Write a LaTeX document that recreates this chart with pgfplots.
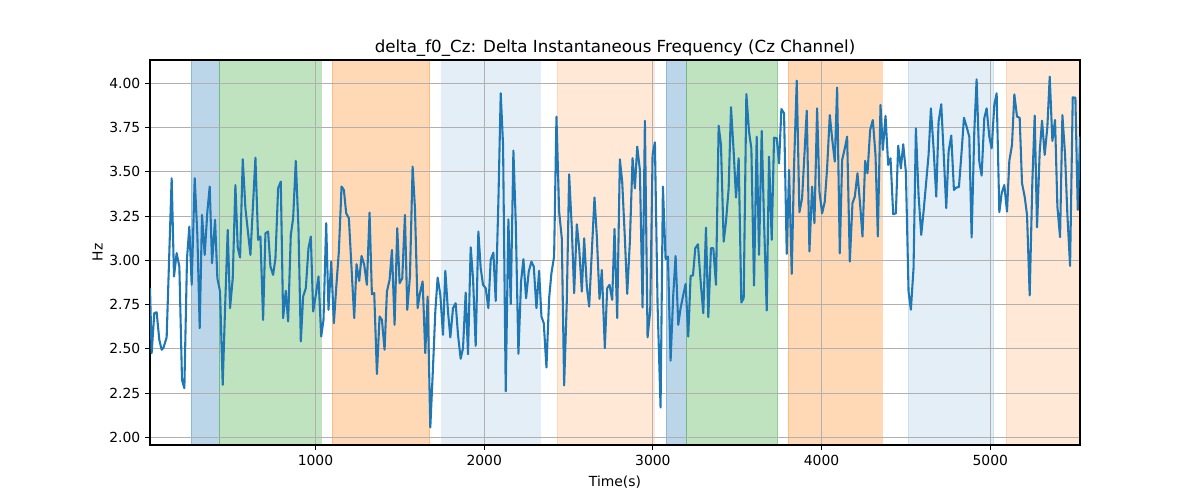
\documentclass[border=0pt]{standalone}
\usepackage{pgfplots}
\pgfplotsset{compat=1.18}
\usepackage{fontspec}
\setmainfont{DejaVu Sans}
\definecolor{tabblue}{HTML}{1F77B4}
\definecolor{taborange}{HTML}{FF7F0E}
\definecolor{tabgreen}{HTML}{2CA02C}
\definecolor{gridgray}{HTML}{B0B0B0}
\begin{document}
\begin{tikzpicture}
\begin{axis}[
  set layers,
  scale only axis,
  width=669.6pt, height=277.2pt,
  xmin=19, xmax=5532, ymin=1.957, ymax=4.132,
  axis line style={black, line width=0.8pt},
  tick align=outside, major tick length=3.5pt,
  tick style={black, line width=0.8pt},
  xtick pos=left, ytick pos=left,
  xtick={1000,2000,3000,4000,5000},
  ytick={2.00,2.25,2.50,2.75,3.00,3.25,3.50,3.75,4.00},
  yticklabel style={/pgf/number format/.cd, fixed, fixed zerofill, precision=2},
  xticklabel style={/pgf/number format/.cd, set thousands separator={}},
  /pgf/number format/assume math mode=true,
  ticklabel style={font=\fontsize{10}{12}\selectfont},
  grid=major,
  major grid style={gridgray, line width=0.8pt},
  title={delta\_f0\_Cz: Delta Instantaneous Frequency (Cz Channel)},
  title style={font=\fontsize{12}{14}\selectfont, yshift=-7pt},
  xlabel={Time(s)}, ylabel={Hz},
  label style={font=\fontsize{10}{12}\selectfont},
  xlabel style={yshift=-1pt},
  ylabel style={yshift=-2pt},
  span/.style={on layer=axis background, fill=#1, draw=#1},
]
% shaded spans
\addplot[span=tabblue, fill opacity=0.3, draw opacity=0.3] coordinates {(264,1.957)(264,4.132)(430,4.132)(430,1.957)} -- cycle;
\addplot[span=tabgreen, fill opacity=0.3, draw opacity=0.3] coordinates {(430,1.957)(430,4.132)(1034,4.132)(1034,1.957)} -- cycle;
\addplot[span=taborange, fill opacity=0.3, draw opacity=0.3] coordinates {(1099,1.957)(1099,4.132)(1677,4.132)(1677,1.957)} -- cycle;
\addplot[span=tabblue, fill opacity=0.12, draw opacity=0.12] coordinates {(1748,1.957)(1748,4.132)(2330,4.132)(2330,1.957)} -- cycle;
\addplot[span=taborange, fill opacity=0.17, draw opacity=0.17] coordinates {(2432,1.957)(2432,4.132)(3008,4.132)(3008,1.957)} -- cycle;
\addplot[span=tabblue, fill opacity=0.3, draw opacity=0.3] coordinates {(3077,1.957)(3077,4.132)(3196,4.132)(3196,1.957)} -- cycle;
\addplot[span=tabgreen, fill opacity=0.3, draw opacity=0.3] coordinates {(3196,1.957)(3196,4.132)(3740,4.132)(3740,1.957)} -- cycle;
\addplot[span=taborange, fill opacity=0.3, draw opacity=0.3] coordinates {(3801,1.957)(3801,4.132)(4357,4.132)(4357,1.957)} -- cycle;
\addplot[span=tabblue, fill opacity=0.12, draw opacity=0.12] coordinates {(4515,1.957)(4515,4.132)(5020,4.132)(5020,1.957)} -- cycle;
\addplot[span=taborange, fill opacity=0.17, draw opacity=0.17] coordinates {(5095,1.957)(5095,4.132)(5532,4.132)(5532,1.957)} -- cycle;
% signal
\addplot[tabblue, line width=1.5pt, mark=none, line join=round] coordinates {
(19,2.843)(28.7,2.476)(44.5,2.702)(58.4,2.707)(74.2,2.551)(88,2.495)(98,2.504)(117.7,2.565)
(147.4,3.464)(161.2,2.909)(177,3.041)(193,2.965)(208.7,2.325)(222.6,2.278)(238.4,3.012)(252.2,3.191)
(266,2.862)(284,3.464)(299.7,3.144)(313.6,2.617)(327.4,3.257)(343.2,3.031)(359.1,3.276)(373,3.417)
(386.8,2.984)(404.6,3.229)(418.4,2.899)(434.2,2.824)(450,2.297)(464,2.730)(479.7,3.172)(493.6,2.730)
(509.4,2.899)(525.2,3.426)(539.1,3.073)(553,3.016)(568.8,3.571)(584.6,3.295)(614.3,3.031)(644,3.580)
(659.8,3.116)(673.6,3.135)(689.4,2.664)(703.3,3.153)(719.1,3.163)(733,2.965)(748.8,2.918)(762.6,3.012)
(778.5,3.407)(794.3,3.445)(808.1,2.674)(824,2.828)(837.8,2.655)(853.6,3.144)(867.5,3.238)(883.3,3.562)
(899.1,3.182)(913,2.542)(926.8,2.796)(942.7,2.843)(958.5,3.069)(972.3,3.135)(986.2,2.711)(1002,2.805)
(1017.8,2.909)(1033.7,2.570)
(1047.5,2.664)(1063.4,3.210)(1077.2,2.721)(1093.0,2.993)(1108.9,2.645)(1122.7,2.843)(1138.5,3.050)(1154.4,3.417)
(1168.2,3.398)(1182.1,3.266)(1197.9,3.238)(1213.7,2.956)(1229.5,2.674)(1243.4,2.978)(1259.2,2.884)(1273.1,3.025)
(1288.9,2.975)(1304.7,2.862)(1320.5,3.270)(1334.4,2.809)(1348.2,2.815)(1364.1,2.358)(1379.9,2.683)(1393.7,2.664)
(1409.6,2.495)(1423.4,2.824)(1439.2,2.890)(1453.1,3.059)(1468.9,2.636)(1484.7,3.182)(1498.6,2.871)(1514.4,2.899)
(1530.2,3.257)(1544.1,2.721)(1559.9,2.909)(1575.7,3.530)(1589.6,3.295)(1605.4,2.730)(1619.3,2.815)(1635.1,2.881)
(1650.9,2.476)(1664.8,2.796)(1680.6,2.056)(1696.4,2.391)(1710.3,2.711)(1724.1,2.903)(1740.0,2.805)(1755.8,2.580)
(1769.6,2.941)(1785.5,2.711)(1799.3,2.565)(1815.1,2.730)(1831.0,2.758)(1844.8,2.580)(1860.6,2.444)(1874.5,2.504)
(1890.3,2.818)(1904.1,2.470)(1920.0,3.074)(1933.8,2.899)(1949.6,2.517)(1965.5,3.163)(1979.3,2.956)(1993.2,2.862)
(2009.0,2.843)(2024.8,2.730)(2038.7,3.003)(2054.5,3.044)(2068.3,2.771)(2084.2,3.332)(2098.0,3.944)(2111.9,3.652)
(2127.7,2.260)(2143.5,3.232)(2157.4,2.753)(2173.2,3.620)(2187.0,3.219)(2202.9,2.472)
(2218.7,2.881)(2232.6,3.007)(2248.4,2.786)(2264.2,2.937)(2280.0,2.993)(2293.9,2.965)(2309.7,2.730)(2325.5,2.941)
(2339.4,2.683)(2353.2,2.645)(2369.1,2.395)(2384.9,2.786)(2398.7,2.928)(2414.5,3.022)(2428.4,3.812)(2444.2,3.276)
(2460.1,3.125)(2473.9,2.294)(2489.7,2.768)(2503.6,3.486)(2519.4,3.182)(2533.3,2.815)(2549.1,3.204)(2562.9,3.073)
(2578.8,2.824)(2592.6,3.125)(2608.4,2.852)(2622.3,2.739)(2638.1,3.050)(2653.9,3.355)(2667.8,3.135)(2683.6,2.783)
(2697.5,2.946)(2715.2,2.504)(2729.1,2.843)(2743.0,2.862)(2758.8,2.777)(2772.6,3.178)(2788.5,2.674)(2804.3,3.571)
(2818.1,3.445)(2834.0,3.125)(2847.8,2.811)(2863.6,3.106)(2879.5,3.577)(2893.3,3.407)(2907.2,3.643)(2923.0,3.511)
(2938.8,2.734)(2952.7,3.789)(2968.5,2.565)(2984.3,2.717)(2998.2,3.596)(3012.0,3.667)(3027.8,2.749)(3045.6,2.169)
(3059.5,3.417)(3075.3,3.008)(3089.2,3.022)(3105.0,2.433)(3120.8,2.805)(3134.7,3.025)(3150.5,2.636)(3164.3,2.730)
(3180.2,2.805)(3194.0,2.867)(3209.8,2.570)
(3223.7,2.913)(3237.6,2.914)(3251.4,3.069)(3267.2,3.091)(3283.1,2.881)(3298.9,2.702)(3314.7,3.185)(3328.6,2.679)
(3344.4,3.069)(3358.2,3.069)(3374.1,2.862)(3389.9,3.761)(3403.7,3.652)(3419.6,3.106)(3433.4,3.219)(3449.2,3.407)
(3463.1,3.865)(3478.9,3.614)(3492.8,3.355)(3508.6,3.577)(3524.4,2.762)(3538.3,2.786)(3554.1,3.940)(3569.9,3.727)
(3583.8,3.633)(3599.6,2.858)(3615.4,3.699)(3629.3,3.031)(3645.1,3.731)(3659.0,3.219)(3674.8,2.717)(3688.6,3.586)
(3704.4,3.116)(3718.3,3.693)(3734.1,3.690)(3748.0,3.548)(3761.8,3.855)(3777.6,3.831)(3793.5,3.037)(3807.3,3.511)
(3823.1,2.924)(3837.0,3.539)(3852.8,4.015)(3868.6,3.272)(3884.5,3.351)(3898.3,3.596)(3912.2,3.846)(3928.0,3.050)
(3943.8,3.417)(3957.7,3.210)(3973.5,3.859)(3987.3,3.389)(4003.2,3.266)(4019.0,3.332)(4032.8,3.520)(4048.7,3.821)
(4062.5,3.690)(4078.3,3.558)(4092.2,3.976)(4108.0,3.040)(4121.9,3.567)(4137.7,3.633)(4151.5,3.699)(4167.4,2.993)
(4183.2,3.323)(4197.0,3.360)(4212.9,3.492)(4228.7,3.313)(4242.5,3.135)(4258.4,3.562)(4272.2,3.492)(4288.0,3.737)
(4303.9,3.793)(4319.7,3.596)(4333.5,3.135)
(4349.4,3.878)(4363.2,3.624)(4379.1,3.816)(4394.9,3.539)(4408.7,3.577)(4424.6,3.261)(4440.4,3.266)(4454.2,3.648)
(4470.1,3.520)(4483.9,3.656)(4499.7,3.501)(4515.6,2.824)(4529.4,2.721)(4545.2,2.956)(4559.1,3.746)(4574.9,3.370)
(4590.7,3.144)(4604.6,3.276)(4620.4,3.445)(4634.3,3.596)(4648.1,3.859)(4663.9,3.633)(4679.8,3.360)(4693.6,3.784)
(4709.4,3.882)(4723.3,3.614)(4739.1,3.295)(4753.0,3.614)(4768.8,3.705)(4784.6,3.398)(4798.5,3.411)(4814.3,3.415)
(4830.1,3.614)(4844.0,3.806)(4859.8,3.755)(4875.6,3.699)(4889.5,3.129)(4905.3,3.727)(4919.1,4.023)(4935.0,3.558)
(4948.8,3.479)(4964.6,3.803)(4978.5,3.859)(4994.3,3.699)(5008.2,3.633)(5024.0,3.878)(5037.8,3.944)(5053.7,3.272)
(5067.5,3.379)(5083.3,3.426)(5099.2,3.276)(5113.0,3.562)(5128.8,3.652)(5142.7,3.938)(5158.5,3.812)(5174.3,3.806)
(5188.2,3.436)(5204.0,3.360)(5217.9,3.257)(5233.7,2.802)(5249.5,3.445)(5263.4,3.818)(5277.2,3.187)(5293.0,3.614)
(5306.9,3.789)(5322.7,3.596)(5338.5,3.755)(5352.4,4.038)(5368.2,3.675)(5384.0,3.793)(5397.9,3.304)(5413.7,3.131)
(5427.6,3.821)(5443.4,3.596)(5457.2,3.257)(5473.1,2.969)(5488.9,3.921)(5504.7,3.919)(5518.6,3.285)(5532.4,3.699)
};
\end{axis}
\path (-108pt,-39.6pt) rectangle (756pt,320.4pt);
\end{tikzpicture}
\end{document}
